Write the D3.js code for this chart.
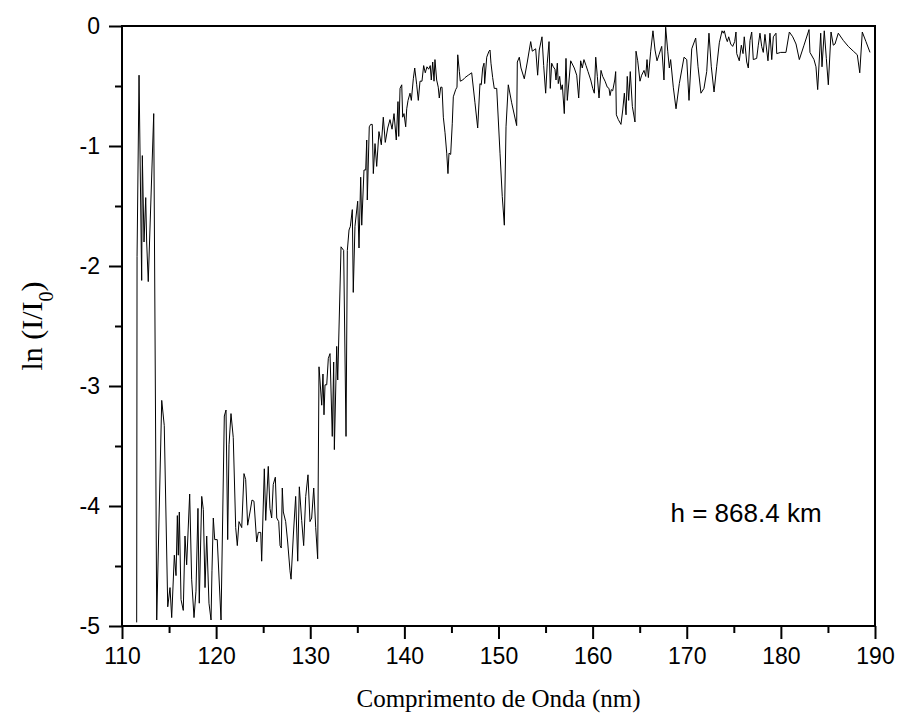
<!DOCTYPE html>
<html>
<head>
<meta charset="utf-8">
<script src="https://cdn.jsdelivr.net/npm/d3@7"></script>
<style>
	body { margin: 0; background: #fff; }
	.tick text { font-family: "Liberation Sans", Arial, sans-serif; }
</style>
</head>
<body>
<div id="chart"></div>
<script>

///////////////////////////////////////////////////////////////////////////
///////////////////////////////// Data ////////////////////////////////////
///////////////////////////////////////////////////////////////////////////

//Wavelength in nm
var wavelength = [
	111.56,111.60,111.81,112.09,112.16,112.34,112.52,112.62,112.79,113.37,113.69,114.22,114.49,114.86,115.10,115.28,
	115.56,115.74,115.88,115.98,116.09,116.27,116.51,116.69,116.87,117.19,117.40,117.65,117.86,118.07,118.21,118.47,
	118.64,118.82,119.00,119.24,119.46,119.56,119.70,119.85,120.12,120.52,120.87,121.05,121.23,121.37,121.58,121.82,
	122.08,122.25,122.43,122.72,122.96,123.14,123.35,123.60,123.81,124.02,124.31,124.48,124.74,124.84,125.12,125.27,
	125.54,125.72,125.90,126.07,126.29,126.44,126.65,126.79,126.92,127.03,127.14,127.39,127.60,127.85,127.96,128.20,
	128.45,128.67,128.84,129.09,129.30,129.52,129.76,129.97,130.15,130.37,130.58,130.79,
	130.93,131.22,131.35,131.46,131.57,131.75,131.92,132.10,132.34,132.49,132.56,132.81,132.92,133.27,133.55,133.80,
	133.94,134.12,134.26,134.47,134.57,134.75,135.04,135.18,135.36,135.47,135.71,135.89,
	136.00,136.06,136.27,136.42,136.59,136.70,136.88,137.06,137.30,137.55,137.76,137.97,138.23,138.47,138.69,138.90,
	139.14,139.32,139.40,139.54,139.72,139.82,139.96,140.14,140.25,140.39,140.60,140.74,140.95,141.10,141.31,141.48,
	141.66,141.87,142.05,142.22,142.40,142.58,142.75,142.86,143.01,143.15,143.25,143.43,143.60,143.71,143.86,144.00,
	144.14,144.32,144.50,144.63,144.74,144.92,145.09,145.20,145.45,145.59,145.67,145.84,145.94,146.20,146.44,146.79,
	147.15,147.50,147.79,148.03,148.17,148.32,148.46,148.53,148.75,148.99,149.10,149.20,149.38,149.55,149.81,150.16,
	150.40,150.62,150.80,151.04,151.40,151.93,152.00,152.21,152.39,152.74,153.06,153.42,153.59,153.95,154.16,154.33,
	154.62,154.80,155.01,155.18,155.37,155.50,155.65,155.82,156.00,156.11,156.25,156.35,156.50,156.64,156.78,156.99,
	157.17,157.31,157.67,158.05,158.31,158.52,158.73,158.90,159.08,159.30,159.51,159.80,160.01,160.18,160.33,160.50,
	160.68,160.89,161.07,161.32,161.56,161.74,161.85,161.98,162.13,162.35,162.45,162.52,162.73,163.01,163.20,163.37,
	163.55,163.68,163.83,164.00,164.22,164.50,164.61,164.79,165.03,165.21,165.46,165.64,165.78,165.92,166.17,166.41,
	166.63,166.84,167.05,167.34,167.58,167.76,167.98,168.15,168.29,168.57,168.86,169.21,169.71,170.00,170.24,170.53,
	170.95,171.20,171.51,171.83,172.12,172.36,172.61,172.90,173.18,173.46,173.75,173.88,173.99,174.17,174.31,174.46,
	174.67,174.88,175.09,175.23,175.31,175.58,175.80,175.98,176.11,176.37,176.54,176.72,176.90,177.07,177.43,177.60,
	177.78,177.96,178.13,178.31,178.49,178.63,178.84,179.03,179.20,179.48,179.56,179.98,180.54,180.90,181.26,181.61,
	181.96,182.46,182.99,183.09,183.52,183.73,183.91,184.23,184.37,184.61,184.83,185.04,185.33,185.57,185.75,186.10,
	186.63,187.16,187.70,188.12,188.38,188.65,189.04,189.47
];

//ln(I/I0) for each wavelength
var lnRatio = [
	-4.97,-1.92,-0.41,-2.12,-1.08,-1.80,-1.43,-1.80,-2.13,-0.73,-4.95,-3.12,-3.33,-4.84,-4.68,-4.93,
	-4.41,-4.58,-4.08,-4.41,-4.05,-4.78,-4.87,-4.25,-4.49,-3.90,-4.61,-4.93,-4.71,-4.02,-4.81,-3.92,
	-4.03,-4.68,-4.25,-4.81,-4.95,-4.54,-4.10,-4.28,-4.28,-4.95,-3.25,-3.20,-4.28,-3.49,-3.23,-3.43,
	-4.18,-4.33,-4.13,-4.18,-3.73,-3.78,-4.16,-4.05,-3.95,-3.96,-4.30,-4.22,-4.22,-4.46,-3.69,-4.12,
	-3.67,-4.02,-4.10,-3.82,-3.76,-4.10,-4.13,-4.33,-4.35,-3.85,-4.05,-4.13,-4.30,-4.54,-4.61,-4.25,
	-3.92,-4.46,-3.84,-4.12,-4.33,-3.92,-3.74,-4.13,-4.10,-3.85,-4.18,-4.44,
	-2.84,-3.16,-2.90,-3.24,-2.99,-2.99,-2.77,-2.73,-3.42,-2.80,-3.53,-2.67,-2.95,-1.84,-1.87,-3.42,
	-1.87,-1.70,-1.67,-1.53,-2.22,-1.67,-1.46,-1.85,-1.26,-1.66,-1.20,-1.20,
	-0.95,-1.45,-0.84,-0.82,-0.82,-1.23,-0.98,-1.17,-0.88,-0.99,-0.76,-0.97,-0.85,-0.78,-0.86,-0.73,
	-0.95,-0.63,-0.92,-0.52,-0.49,-0.76,-0.73,-0.84,-0.69,-0.62,-0.56,-0.62,-0.44,-0.35,-0.49,-0.62,
	-0.46,-0.46,-0.33,-0.39,-0.34,-0.36,-0.33,-0.45,-0.30,-0.46,-0.28,-0.45,-0.51,-0.60,-0.51,-0.51,
	-0.76,-0.89,-1.06,-1.23,-1.06,-1.07,-0.81,-0.59,-0.53,-0.51,-0.24,-0.38,-0.46,-0.45,-0.43,-0.41,
	-0.39,-0.64,-0.85,-0.48,-0.49,-0.35,-0.31,-0.48,-0.26,-0.21,-0.20,-0.31,-0.43,-0.52,-0.52,-1.06,
	-1.42,-1.66,-0.84,-0.49,-0.64,-0.83,-0.30,-0.26,-0.35,-0.44,-0.30,-0.13,-0.21,-0.19,-0.41,-0.20,
	-0.09,-0.33,-0.56,-0.31,-0.13,-0.52,-0.31,-0.34,-0.36,-0.45,-0.31,-0.48,-0.42,-0.53,-0.49,-0.73,
	-0.27,-0.62,-0.29,-0.35,-0.41,-0.60,-0.29,-0.35,-0.28,-0.33,-0.38,-0.45,-0.52,-0.56,-0.26,-0.42,
	-0.60,-0.37,-0.42,-0.46,-0.51,-0.52,-0.58,-0.53,-0.54,-0.45,-0.38,-0.74,-0.78,-0.82,-0.70,-0.56,
	-0.74,-0.42,-0.62,-0.38,-0.67,-0.80,-0.21,-0.29,-0.46,-0.41,-0.37,-0.42,-0.28,-0.43,-0.21,-0.04,
	-0.20,-0.29,-0.24,-0.17,-0.45,-0.01,-0.21,-0.35,-0.28,-0.51,-0.69,-0.48,-0.26,-0.28,-0.62,-0.19,
	-0.10,-0.34,-0.56,-0.52,-0.38,-0.06,-0.34,-0.55,-0.34,-0.14,-0.04,-0.06,-0.04,-0.10,-0.13,-0.09,
	-0.15,-0.17,-0.13,-0.05,-0.23,-0.29,-0.16,-0.23,-0.09,-0.30,-0.35,-0.12,-0.05,-0.28,-0.27,-0.16,
	-0.06,-0.17,-0.22,-0.07,-0.20,-0.29,-0.06,-0.28,-0.09,-0.06,-0.23,-0.22,-0.22,-0.05,-0.09,-0.15,
	-0.28,-0.16,-0.03,-0.22,-0.28,-0.34,-0.53,-0.06,-0.34,-0.04,-0.27,-0.49,-0.05,-0.16,-0.15,-0.06,
	-0.12,-0.17,-0.21,-0.24,-0.39,-0.05,-0.13,-0.22
];

var xTicks = [110, 120, 130, 140, 150, 160, 170, 180, 190];
var yTicks = [0, -1, -2, -3, -4, -5];
var heightLabel = "h = 868.4 km";

///////////////////////////////////////////////////////////////////////////
//////////////////// Set up and initiate svg containers ///////////////////
///////////////////////////////////////////////////////////////////////////

var margin = { top: 26, right: 24, bottom: 94, left: 122 };
var width = 899 - margin.left - margin.right,
	height = 720 - margin.top - margin.bottom;

var svg = d3.select("#chart")
	.append("svg")
	.attr("width", 899)
	.attr("height", 720);

var g = svg.append("g")
	.attr("transform", "translate(" + margin.left + "," + margin.top + ")");

var x = d3.scaleLinear().domain([110, 190]).range([0, width]);
var y = d3.scaleLinear().domain([-5, 0]).range([height, 0]);

//Plain hyphen for negative labels, like the original
var plain = function(d) { return String(d); };

///////////////////////////////////////////////////////////////////////////
//////////////////////////////// Axes /////////////////////////////////////
///////////////////////////////////////////////////////////////////////////

//Minor ticks at the half steps
g.append("g")
	.attr("transform", "translate(0," + height + ")")
	.call(d3.axisBottom(x).tickValues(d3.range(115, 190, 10)).tickSize(7).tickFormat(""))
	.call(function(a) { a.select(".domain").remove(); })
	.selectAll("line").attr("stroke-width", 2);

g.append("g")
	.call(d3.axisLeft(y).tickValues(d3.range(-4.5, 0, 1)).tickSize(7).tickFormat(""))
	.call(function(a) { a.select(".domain").remove(); })
	.selectAll("line").attr("stroke-width", 2);

//Major ticks with labels
var xAxis = g.append("g")
	.attr("transform", "translate(0," + height + ")")
	.call(d3.axisBottom(x).tickValues(xTicks).tickSize(13).tickPadding(9).tickFormat(plain));
xAxis.select(".domain").remove();
xAxis.selectAll("line").attr("stroke-width", 2);
xAxis.selectAll("text").attr("font-size", 23).attr("fill", "#000");

var yAxis = g.append("g")
	.call(d3.axisLeft(y).tickValues(yTicks).tickSize(13).tickPadding(9).tickFormat(plain));
yAxis.select(".domain").remove();
yAxis.selectAll("line").attr("stroke-width", 2);
yAxis.selectAll("text").attr("font-size", 23).attr("fill", "#000");

///////////////////////////////////////////////////////////////////////////
//////////////////////////////// Line /////////////////////////////////////
///////////////////////////////////////////////////////////////////////////

var points = wavelength.map(function(d, i) { return [d, lnRatio[i]]; });

var line = d3.line()
	.x(function(d) { return x(d[0]); })
	.y(function(d) { return y(d[1]); });

g.append("path")
	.datum(points)
	.attr("d", line)
	.attr("fill", "none")
	.attr("stroke", "#000")
	.attr("stroke-width", 1)
	.attr("stroke-linejoin", "miter");

//Frame
g.append("rect")
	.attr("width", width)
	.attr("height", height)
	.attr("fill", "none")
	.attr("stroke", "#000")
	.attr("stroke-width", 2);

///////////////////////////////////////////////////////////////////////////
////////////////////////////// Text labels ////////////////////////////////
///////////////////////////////////////////////////////////////////////////

g.append("text")
	.attr("x", x(176.3))
	.attr("y", y(-4.13))
	.attr("text-anchor", "middle")
	.style("font-family", "'Liberation Sans', Arial, sans-serif")
	.style("font-size", "26px")
	.text(heightLabel);

svg.append("text")
	.attr("x", margin.left + width / 2)
	.attr("y", 707)
	.attr("text-anchor", "middle")
	.style("font-family", "'Liberation Serif', 'Times New Roman', serif")
	.style("font-size", "25px")
	.text("Comprimento de Onda (nm)");

var yTitle = svg.append("text")
	.attr("transform", "translate(42," + (margin.top + height / 2) + ") rotate(-90)")
	.attr("text-anchor", "middle")
	.style("font-family", "'Liberation Serif', 'Times New Roman', serif")
	.style("font-size", "30px");
yTitle.append("tspan").text("ln (I/I");
yTitle.append("tspan").attr("baseline-shift", "sub").style("font-size", "20px").text("0");
yTitle.append("tspan").text(")");

</script>
</body>
</html>
